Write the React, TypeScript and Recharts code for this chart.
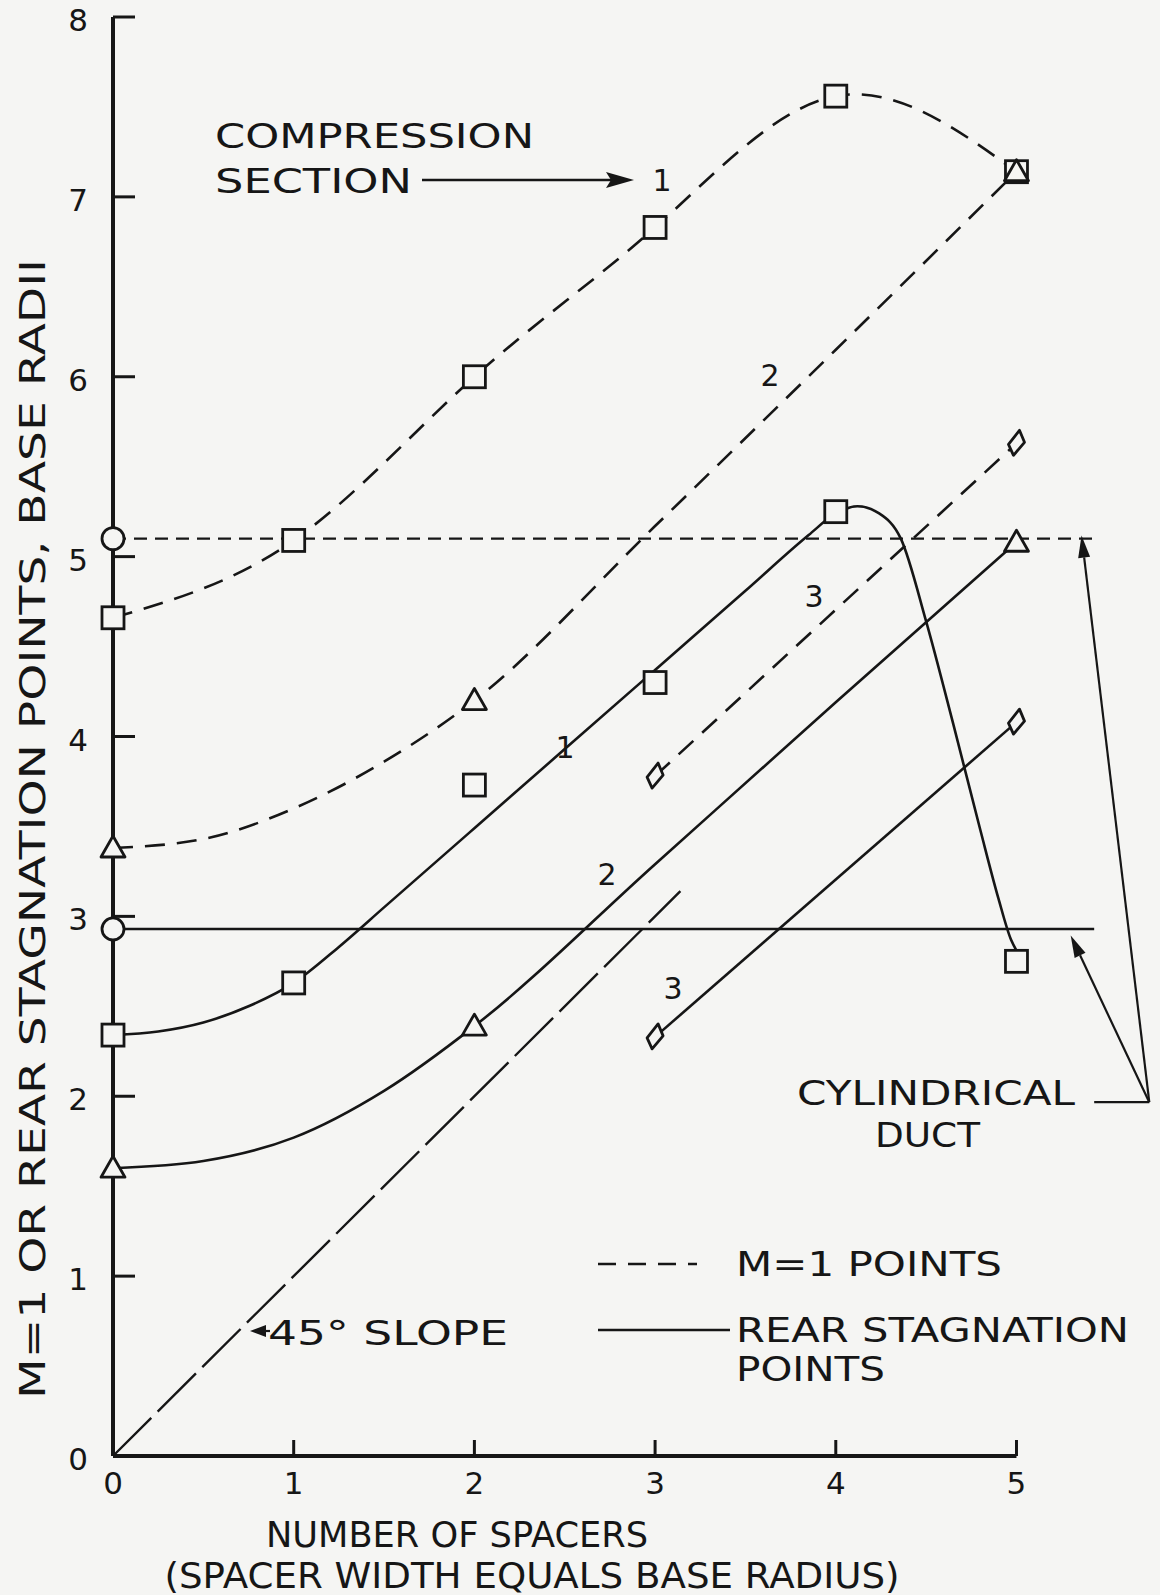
import { ComposedChart, Line, Scatter, XAxis, YAxis, ReferenceLine } from "recharts";

const BG = "#f5f5f3";
const INK = "#161616";
const FONT = "'DejaVu Sans', 'Liberation Sans', sans-serif";

const xTicks = [0, 1, 2, 3, 4, 5];
const yTicks = [0, 1, 2, 3, 4, 5, 6, 7, 8];

// M=1 points (dashed curves)
const m1Squares = [
    {x: 0, y: 4.66}, {x: 1, y: 5.09}, {x: 2, y: 6.0},
    {x: 3, y: 6.83}, {x: 4, y: 7.56}, {x: 5, y: 7.14},
];
const m1Triangles = [{x: 0, y: 3.38}, {x: 2, y: 4.2}, {x: 5, y: 7.14}];
const m1Diamonds = [{x: 3, y: 3.78}, {x: 5, y: 5.63}];
const m1Curve2 = [
    {x: 0, y: 3.38}, {x: 0.5, y: 3.43}, {x: 1, y: 3.6}, {x: 1.5, y: 3.86},
    {x: 2, y: 4.2}, {x: 3, y: 5.17}, {x: 4, y: 6.15}, {x: 5, y: 7.14},
];

// rear stagnation points (solid curves)
const rsSquares = [
    {x: 0, y: 2.34}, {x: 1, y: 2.63}, {x: 2, y: 3.73},
    {x: 3, y: 4.3}, {x: 4, y: 5.25}, {x: 5, y: 2.75},
];
const rsTriangles = [{x: 0, y: 1.6}, {x: 2, y: 2.39}, {x: 5, y: 5.08}];
const rsDiamonds = [{x: 3, y: 2.33}, {x: 5, y: 4.08}];
const rsCurve1 = [
    {x: 0, y: 2.34}, {x: 0.25, y: 2.36}, {x: 0.5, y: 2.41}, {x: 0.75, y: 2.5},
    {x: 1, y: 2.63}, {x: 1.25, y: 2.83}, {x: 1.5, y: 3.05}, {x: 2, y: 3.49},
    {x: 2.5, y: 3.93}, {x: 3, y: 4.37}, {x: 3.5, y: 4.81}, {x: 3.85, y: 5.12},
    {x: 4, y: 5.24}, {x: 4.12, y: 5.28}, {x: 4.24, y: 5.24}, {x: 4.36, y: 5.1},
    {x: 4.5, y: 4.64}, {x: 4.65, y: 4.07}, {x: 4.8, y: 3.48}, {x: 4.9, y: 3.1},
    {x: 4.97, y: 2.87}, {x: 5, y: 2.81},
];
const rsCurve2 = [
    {x: 0, y: 1.6}, {x: 0.5, y: 1.64}, {x: 1, y: 1.77}, {x: 1.5, y: 2.03},
    {x: 2, y: 2.39}, {x: 3, y: 3.29}, {x: 4, y: 4.19}, {x: 5, y: 5.08},
];

// cylindrical duct levels and 45 degree slope
const ductCircles = [{x: 0, y: 5.1}, {x: 0, y: 2.93}];
const ductM1 = [{x: 0, y: 5.1}, {x: 5.43, y: 5.1}];
const ductRear = [{x: 0, y: 2.93}, {x: 5.43, y: 2.93}];
const slope45 = [{x: 0, y: 0}, {x: 3.14, y: 3.14}];

const stroke = {stroke: INK, strokeWidth: 2.6, dot: false, activeDot: false, isAnimationActive: false, legendType: "none" as const};

function SquareDot({cx, cy}) {
    return <rect x={cx - 11} y={cy - 11} width={22} height={22} fill={BG} stroke={INK} strokeWidth={2.8}/>;
}
function TriangleDot({cx, cy}) {
    return <polygon points={`${cx},${cy - 12} ${cx - 12},${cy + 9} ${cx + 12},${cy + 9}`} fill={BG} stroke={INK} strokeWidth={2.8} strokeLinejoin="round"/>;
}
function DiamondDot({cx, cy}) {
    return <polygon points={`${cx + 3},${cy - 13} ${cx + 8},${cy - 1} ${cx - 3},${cy + 12} ${cx - 8},${cy + 1}`} fill={BG} stroke={INK} strokeWidth={2.8} strokeLinejoin="round"/>;
}
function CircleDot({cx, cy}) {
    return <circle cx={cx} cy={cy} r={11} fill={BG} stroke={INK} strokeWidth={2.8}/>;
}

function XTick({x, y, payload}) {
    return (
        <g>
            {payload.value !== 0 && <line x1={x} y1={y} x2={x} y2={y - 16} stroke={INK} strokeWidth={3}/>}
            <text x={x} y={y + 38} textAnchor="middle" fontSize={31} fontFamily={FONT} fill={INK}>{payload.value}</text>
        </g>
    );
}
function YTick({x, y, payload}) {
    return (
        <g>
            {payload.value !== 0 && <line x1={x} y1={y} x2={x + 22} y2={y} stroke={INK} strokeWidth={3}/>}
            <text x={x - 35} y={y + 14} textAnchor="middle" fontSize={31} fontFamily={FONT} fill={INK}>{payload.value}</text>
        </g>
    );
}

function ArrowSeg(props) {
    const {x1, y1, x2, y2} = props;
    const a = Math.atan2(y2 - y1, x2 - x1);
    const L = 22, W = 6;
    const bx = x2 - L * Math.cos(a), by = y2 - L * Math.sin(a);
    const px = -Math.sin(a) * W, py = Math.cos(a) * W;
    return (
        <g>
            <line x1={x1} y1={y1} x2={bx} y2={by} stroke={INK} strokeWidth={2.2}/>
            <polygon points={`${x2},${y2} ${bx + px},${by + py} ${bx - px},${by - py}`} fill={INK}/>
        </g>
    );
}

const txt = {fontFamily: FONT, fill: INK};

export default function App() {
    return (
        <div style={{position: "absolute", left: 0, top: 0, width: 1160, height: 1595, background: BG}}>
            <ComposedChart width={1160} height={1595} margin={{top: 17, right: 8, bottom: 79, left: 53}}>
                <XAxis type="number" dataKey="x" domain={[0, 5.75]} ticks={xTicks} interval={0}
                       axisLine={false} tickLine={false} tickSize={0} tickMargin={0} tick={<XTick/>} height={60}/>
                <YAxis type="number" dataKey="y" domain={[0, 8]} ticks={yTicks} interval={0}
                       axisLine={{stroke: INK, strokeWidth: 4}} tickLine={false} tickSize={0} tickMargin={0}
                       tick={<YTick/>} width={60}/>
                <ReferenceLine segment={[{x: 0, y: 0}, {x: 5, y: 0}]} stroke={INK} strokeWidth={4}/>

                <Line data={slope45} dataKey="y" type="linear" {...stroke} strokeWidth={2.4} strokeDasharray="54 9"/>
                <Line data={ductM1} dataKey="y" type="linear" {...stroke} strokeWidth={2.2} strokeDasharray="13 8"/>
                <Line data={ductRear} dataKey="y" type="linear" {...stroke} strokeWidth={2.4}/>

                <Line data={m1Squares} dataKey="y" type="natural" {...stroke} strokeDasharray="20 12"/>
                <Line data={m1Curve2} dataKey="y" type="monotone" {...stroke} strokeDasharray="20 12"/>
                <Line data={m1Diamonds} dataKey="y" type="linear" {...stroke} strokeDasharray="20 12"/>

                <Line data={rsCurve1} dataKey="y" type="monotone" {...stroke}/>
                <Line data={rsCurve2} dataKey="y" type="monotone" {...stroke}/>
                <Line data={rsDiamonds} dataKey="y" type="linear" {...stroke}/>

                <ReferenceLine segment={[{x: 5.43, y: 1.967}, {x: 5.735, y: 1.967}]} stroke={INK} strokeWidth={2.2}/>
                <ReferenceLine segment={[{x: 5.735, y: 1.967}, {x: 5.3, y: 2.894}]} shape={ArrowSeg}/>
                <ReferenceLine segment={[{x: 5.735, y: 1.967}, {x: 5.36, y: 5.117}]} shape={ArrowSeg}/>

                <Scatter data={ductCircles} shape={CircleDot} isAnimationActive={false} legendType="none"/>
                <Scatter data={m1Squares} shape={SquareDot} isAnimationActive={false} legendType="none"/>
                <Scatter data={rsSquares} shape={SquareDot} isAnimationActive={false} legendType="none"/>
                <Scatter data={m1Triangles} shape={TriangleDot} isAnimationActive={false} legendType="none"/>
                <Scatter data={rsTriangles} shape={TriangleDot} isAnimationActive={false} legendType="none"/>
                <Scatter data={m1Diamonds} shape={DiamondDot} isAnimationActive={false} legendType="none"/>
                <Scatter data={rsDiamonds} shape={DiamondDot} isAnimationActive={false} legendType="none"/>
            </ComposedChart>

            <svg width={1160} height={1595} style={{position: "absolute", left: 0, top: 0, pointerEvents: "none"}}>
                <g {...txt} fontSize={34}>
                    <text x={215} y={148} textLength={319} lengthAdjust="spacingAndGlyphs">COMPRESSION</text>
                    <text x={215} y={193} textLength={197} lengthAdjust="spacingAndGlyphs">SECTION</text>
                    <text x={797} y={1105} textLength={278} lengthAdjust="spacingAndGlyphs">CYLINDRICAL</text>
                    <text x={875} y={1147} textLength={105} lengthAdjust="spacingAndGlyphs">DUCT</text>
                    <text x={736} y={1276} textLength={266} lengthAdjust="spacingAndGlyphs">M=1 POINTS</text>
                    <text x={736} y={1342} textLength={393} lengthAdjust="spacingAndGlyphs">REAR STAGNATION</text>
                    <text x={736} y={1381} textLength={149} lengthAdjust="spacingAndGlyphs">POINTS</text>
                    <text x={268} y={1345} textLength={240} lengthAdjust="spacingAndGlyphs">45° SLOPE</text>
                </g>
                <g {...txt} fontSize={30} textAnchor="middle">
                    <text x={662} y={191}>1</text>
                    <text x={770} y={386}>2</text>
                    <text x={814} y={607}>3</text>
                    <text x={565} y={758}>1</text>
                    <text x={607} y={885}>2</text>
                    <text x={673} y={999}>3</text>
                </g>
                <line x1={422} y1={180} x2={612} y2={180} stroke={INK} strokeWidth={2.4}/>
                <polygon points="634,180 606,172 611,180 606,188" fill={INK}/>
                <line x1={598} y1={1264} x2={697} y2={1264} stroke={INK} strokeWidth={2.4} strokeDasharray="18 12"/>
                <line x1={598} y1={1330} x2={730} y2={1330} stroke={INK} strokeWidth={2.4}/>
                <line x1={258} y1={1331} x2={270} y2={1331} stroke={INK} strokeWidth={2.2}/>
                <polygon points="250,1331 266,1325 266,1337" fill={INK}/>
                <g {...txt} fontSize={35} textAnchor="middle">
                    <text x={457} y={1547} textLength={382} lengthAdjust="spacingAndGlyphs">NUMBER OF SPACERS</text>
                    <text x={532} y={1588} textLength={735} lengthAdjust="spacingAndGlyphs">(SPACER WIDTH EQUALS  BASE RADIUS)</text>
                    <text transform="translate(45,829) rotate(-90)" x={0} y={0} textLength={1140} lengthAdjust="spacingAndGlyphs">M=1 OR REAR STAGNATION POINTS,  BASE RADII</text>
                </g>
            </svg>
        </div>
    );
}
